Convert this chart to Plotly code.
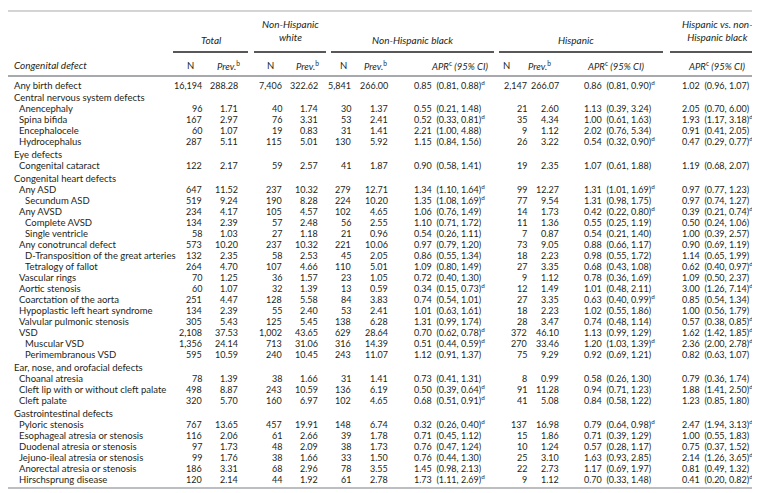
import plotly.graph_objects as go

# ---------------- data ----------------
row_labels = [
    "Any birth defect",
    "Central nervous system defects",
    "Anencephaly", "Spina bifida", "Encephalocele", "Hydrocephalus",
    "Eye defects",
    "Congenital cataract",
    "Congenital heart defects",
    "Any ASD", "Secundum ASD", "Any AVSD", "Complete AVSD", "Single ventricle",
    "Any conotruncal defect", "D-Transposition of the great arteries", "Tetralogy of fallot",
    "Vascular rings", "Aortic stenosis", "Coarctation of the aorta",
    "Hypoplastic left heart syndrome", "Valvular pulmonic stenosis",
    "VSD", "Muscular VSD", "Perimembranous VSD",
    "Ear, nose, and orofacial defects",
    "Choanal atresia", "Cleft lip with or without cleft palate", "Cleft palate",
    "Gastrointestinal defects",
    "Pyloric stenosis", "Esophageal atresia or stenosis", "Duodenal atresia or stenosis",
    "Jejuno-ileal atresia or stenosis", "Anorectal atresia or stenosis", "Hirschsprung disease",
]
row_levels = [0, 0, 1, 1, 1, 1, 0, 1, 0,
              1, 2, 1, 2, 2, 1, 2, 2, 1, 1, 1, 1, 1, 1, 2, 2,
              0, 1, 1, 1, 0, 1, 1, 1, 1, 1, 1]
row_is_group = [False, True, False, False, False, False, True, False, True,
                False, False, False, False, False, False, False, False, False, False,
                False, False, False, False, False, False,
                True, False, False, False, True, False, False, False, False, False, False]

total_n = [16194, 96, 167, 60, 287, 122, 647, 519, 234, 134, 58, 573, 132, 264, 70, 60,
           251, 134, 305, 2108, 1356, 595, 78, 498, 320, 767, 116, 97, 99, 186, 120]
total_prev = [288.28, 1.71, 2.97, 1.07, 5.11, 2.17, 11.52, 9.24, 4.17, 2.39, 1.03, 10.20, 2.35,
              4.70, 1.25, 1.07, 4.47, 2.39, 5.43, 37.53, 24.14, 10.59, 1.39, 8.87, 5.70, 13.65,
              2.06, 1.73, 1.76, 3.31, 2.14]
nhw_n = [7406, 40, 76, 19, 115, 59, 237, 190, 105, 57, 27, 237, 58, 107, 36, 32, 128, 55, 125,
         1002, 713, 240, 38, 243, 160, 457, 61, 48, 38, 68, 44]
nhw_prev = [322.62, 1.74, 3.31, 0.83, 5.01, 2.57, 10.32, 8.28, 4.57, 2.48, 1.18, 10.32, 2.53,
            4.66, 1.57, 1.39, 5.58, 2.40, 5.45, 43.65, 31.06, 10.45, 1.66, 10.59, 6.97, 19.91,
            2.66, 2.09, 1.66, 2.96, 1.92]
nhb_n = [5841, 30, 53, 31, 130, 41, 279, 224, 102, 56, 21, 221, 45, 110, 23, 13, 84, 53, 138,
         629, 316, 243, 31, 136, 102, 148, 39, 38, 33, 78, 61]
nhb_prev = [266.00, 1.37, 2.41, 1.41, 5.92, 1.87, 12.71, 10.20, 4.65, 2.55, 0.96, 10.06, 2.05,
            5.01, 1.05, 0.59, 3.83, 2.41, 6.28, 28.64, 14.39, 11.07, 1.41, 6.19, 4.65, 6.74,
            1.78, 1.73, 1.50, 3.55, 2.78]
nhb_apr = [0.85, 0.55, 0.52, 2.21, 1.15, 0.90, 1.34, 1.35, 1.06, 1.10, 0.54, 0.97, 0.86, 1.09,
           0.72, 0.34, 0.74, 1.01, 1.31, 0.70, 0.51, 1.12, 0.73, 0.50, 0.68, 0.32, 0.71, 0.76,
           0.76, 1.45, 1.73]
nhb_lo = [0.81, 0.21, 0.33, 1.00, 0.84, 0.58, 1.10, 1.08, 0.76, 0.71, 0.26, 0.79, 0.55, 0.80,
          0.40, 0.15, 0.54, 0.63, 0.99, 0.62, 0.44, 0.91, 0.41, 0.39, 0.51, 0.26, 0.45, 0.47,
          0.44, 0.98, 1.11]
nhb_hi = [0.88, 1.48, 0.81, 4.88, 1.56, 1.41, 1.64, 1.69, 1.49, 1.72, 1.11, 1.20, 1.34, 1.49,
          1.30, 0.73, 1.01, 1.61, 1.74, 0.78, 0.59, 1.37, 1.31, 0.64, 0.91, 0.40, 1.12, 1.24,
          1.30, 2.13, 2.69]
nhb_sig = [1, 0, 1, 0, 0, 0, 1, 1, 0, 0, 0, 0, 0, 0, 0, 1, 0, 0, 0, 1, 1, 0, 0, 1, 1, 1, 0, 0,
           0, 0, 1]
hisp_n = [2147, 21, 35, 9, 26, 19, 99, 77, 14, 11, 7, 73, 18, 27, 9, 12, 27, 18, 28, 372, 270,
          75, 8, 91, 41, 137, 15, 10, 25, 22, 9]
hisp_prev = [266.07, 2.60, 4.34, 1.12, 3.22, 2.35, 12.27, 9.54, 1.73, 1.36, 0.87, 9.05, 2.23,
             3.35, 1.12, 1.49, 3.35, 2.23, 3.47, 46.10, 33.46, 9.29, 0.99, 11.28, 5.08, 16.98,
             1.86, 1.24, 3.10, 2.73, 1.12]
hisp_apr = [0.86, 1.13, 1.00, 2.02, 0.54, 1.07, 1.31, 1.31, 0.42, 0.55, 0.54, 0.88, 0.98, 0.68,
            0.78, 1.01, 0.63, 1.02, 0.74, 1.13, 1.20, 0.92, 0.58, 0.94, 0.84, 0.79, 0.71, 0.57,
            1.63, 1.17, 0.70]
hisp_lo = [0.81, 0.39, 0.61, 0.76, 0.32, 0.61, 1.01, 0.98, 0.22, 0.25, 0.21, 0.66, 0.55, 0.43,
           0.36, 0.48, 0.40, 0.55, 0.48, 0.99, 1.03, 0.69, 0.26, 0.71, 0.58, 0.64, 0.39, 0.28,
           0.93, 0.69, 0.33]
hisp_hi = [0.90, 3.24, 1.63, 5.34, 0.90, 1.88, 1.69, 1.75, 0.80, 1.19, 1.40, 1.17, 1.72, 1.08,
           1.69, 2.11, 0.99, 1.86, 1.14, 1.29, 1.39, 1.21, 1.30, 1.23, 1.22, 0.98, 1.29, 1.17,
           2.85, 1.97, 1.48]
hisp_sig = [1, 0, 0, 0, 1, 0, 1, 0, 1, 0, 0, 0, 0, 0, 0, 0, 1, 0, 0, 0, 1, 0, 0, 0, 0, 1, 0, 0,
            0, 0, 0]
hvb_apr = [1.02, 2.05, 1.93, 0.91, 0.47, 1.19, 0.97, 0.97, 0.39, 0.50, 1.00, 0.90, 1.14, 0.62,
           1.09, 3.00, 0.85, 1.00, 0.57, 1.62, 2.36, 0.82, 0.79, 1.88, 1.23, 2.47, 1.00, 0.75,
           2.14, 0.81, 0.41]
hvb_lo = [0.96, 0.70, 1.17, 0.41, 0.29, 0.68, 0.77, 0.74, 0.21, 0.24, 0.39, 0.69, 0.65, 0.40,
          0.50, 1.26, 0.54, 0.56, 0.38, 1.42, 2.00, 0.63, 0.36, 1.41, 0.85, 1.94, 0.55, 0.37,
          1.26, 0.49, 0.20]
hvb_hi = [1.07, 6.00, 3.18, 2.05, 0.77, 2.07, 1.23, 1.27, 0.74, 1.06, 2.57, 1.19, 1.99, 0.97,
          2.37, 7.14, 1.34, 1.79, 0.85, 1.85, 2.78, 1.07, 1.74, 2.50, 1.80, 3.13, 1.83, 1.52,
          3.65, 1.32, 0.82]
hvb_sig = [0, 0, 1, 0, 1, 0, 0, 0, 1, 0, 0, 0, 0, 1, 0, 1, 0, 0, 1, 1, 1, 0, 0, 1, 0, 1, 0, 0,
           1, 0, 1]

group_headers = ["Total", "Non-Hispanic<br>white", "Non-Hispanic black", "Hispanic",
                 "Hispanic vs. non-<br>Hispanic black"]

# ---------------- layout ----------------
W, H = 760, 493
FONT = "Lato, 'Open Sans', sans-serif"
TXT = "#231f20"
FS_LAB = 9.5
FS_NUM = 9
FS_HDR = 10

annotations = []


def add(text, x, y, anchor="left", size=FS_LAB, italic=False):
    if italic:
        text = "<i>" + text + "</i>"
    annotations.append(dict(text=text, x=x, y=y, xref="x", yref="y", showarrow=False,
                            xanchor=anchor, yanchor="middle",
                            font=dict(family=FONT, size=size, color=TXT)))


# group header row
gh_x = [203, 282, 404, 568, 709]
gh_y = [32, 22, 32, 32, 22]
for t, x, y in zip(group_headers, gh_x, gh_y):
    add(t, x, y, "center", FS_HDR, italic=True)

# sub header row
sup_prev = "Prev.</i><sup>b</sup><i>"
sup_apr = "APR</i><sup>c</sup><i> (95% CI)"
hdr_y = 57
add("Congenital defect", 4, hdr_y, "left", FS_HDR, italic=True)
for x, t in [(182, "N"), (220, sup_prev), (262, "N"), (299, sup_prev), (335, "N"),
             (367, sup_prev), (452, sup_apr), (498, "N"), (531, sup_prev), (608, sup_apr),
             (709, sup_apr)]:
    add(t, x, hdr_y, "center", FS_LAB, italic=(t != "N"))

# body rows
indent = {0: 4, 1: 9, 2: 15}
y = 77
di = 0


def apr_text(a, lo, hi, s):
    t = f"{a:.2f}&nbsp; ({lo:.2f}, {hi:.2f})"
    if s:
        t += "<sup>d</sup>"
    return t


for i, (lab, lev, grp) in enumerate(zip(row_labels, row_levels, row_is_group)):
    if i > 0:
        y += 11
        if grp:
            y += 1 if i == 1 else 2
    add(lab, indent[lev], y, "left")
    if grp:
        continue
    k = di
    di += 1
    add(f"{total_n[k]:,}", 196, y, "right", FS_NUM)
    add(f"{total_prev[k]:.2f}", 232, y, "right", FS_NUM)
    add(f"{nhw_n[k]:,}", 276, y, "right", FS_NUM)
    add(f"{nhw_prev[k]:.2f}", 312, y, "right", FS_NUM)
    add(f"{nhb_n[k]:,}", 345, y, "right", FS_NUM)
    add(f"{nhb_prev[k]:.2f}", 382, y, "right", FS_NUM)
    add(apr_text(nhb_apr[k], nhb_lo[k], nhb_hi[k], nhb_sig[k]), 404, y, "left", FS_NUM)
    add(f"{hisp_n[k]:,}", 521, y, "right", FS_NUM)
    add(f"{hisp_prev[k]:.2f}", 553, y, "right", FS_NUM)
    add(apr_text(hisp_apr[k], hisp_lo[k], hisp_hi[k], hisp_sig[k]), 574, y, "left", FS_NUM)
    add(apr_text(hvb_apr[k], hvb_lo[k], hvb_hi[k], hvb_sig[k]), 672, y, "left", FS_NUM)

bottom_y = y + 9

shapes = []


def hline(x0, x1, yy, color, w):
    shapes.append(dict(type="line", xref="x", yref="y", x0=x0, x1=x1, y0=yy, y1=yy,
                       line=dict(color=color, width=w)))


hline(0, 760, 3, "#a7a9ac", 1.2)
for x0, x1 in [(165, 240), (246, 318), (323, 486), (491, 655), (662, 760)]:
    hline(x0, x1, 44, "#231f20", 1.3)
hline(0, 760, 68, "#a7a9ac", 2)
hline(0, 760, bottom_y, "#a7a9ac", 1.5)

fig = go.Figure()
fig.update_layout(
    width=W, height=H, margin=dict(l=0, r=0, t=0, b=0),
    paper_bgcolor="white", plot_bgcolor="white",
    xaxis=dict(range=[0, W], visible=False, fixedrange=True),
    yaxis=dict(range=[H, 0], visible=False, fixedrange=True),
    annotations=annotations, shapes=shapes, showlegend=False,
)
fig.write_html("out.html")
